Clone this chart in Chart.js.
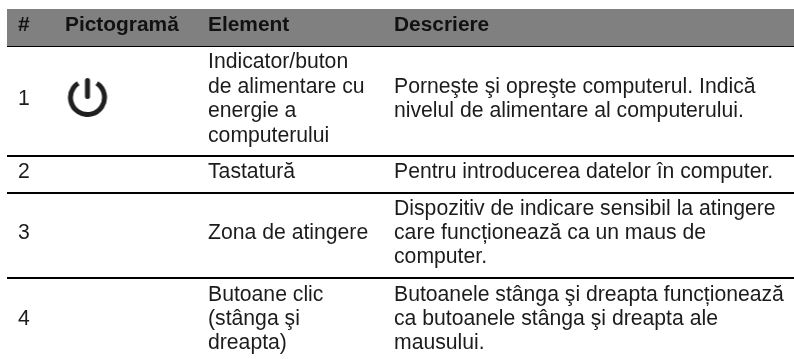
<!DOCTYPE html>
<html>
<head>
<meta charset="utf-8">
<style>
  html, body { margin: 0; padding: 0; background: #fff; }
  canvas { display: block; }
</style>
<script src="https://cdn.jsdelivr.net/npm/chart.js@4/dist/chart.umd.min.js"></script>
</head>
<body>
<canvas id="tableChart" width="794" height="359"></canvas>
<script>
const headers = ['#', 'Pictogramă', 'Element', 'Descriere'];
const rowNumbers = ['1', '2', '3', '4'];
const elements = [
    ['Indicator/buton', 'de alimentare cu', 'energie a', 'computerului'],
    ['Tastatură'],
    ['Zona de atingere'],
    ['Butoane clic', '(stânga şi', 'dreapta)']
];
const descriptions = [
    ['Porneşte şi opreşte computerul. Indică', 'nivelul de alimentare al computerului.'],
    ['Pentru introducerea datelor în computer.'],
    ['Dispozitiv de indicare sensibil la atingere', 'care funcționează ca un maus de', 'computer.'],
    ['Butoanele stânga şi dreapta funcționează', 'ca butoanele stânga şi dreapta ale', 'mausului.']
];

// layout, in scale units (the scales run 1:1 with the canvas)
const columnX = [18, 65, 208, 394];
const tableLeft = 7;
const tableRight = 794;
const headerTop = 9;
const ruleY = [46, 156, 193, 278];
const headerBaseline = 31;
const rowMiddle = [104.5, 177.5, 238.5, 324.5];
const lineHeight = 24.4;
const fontSize = 21.2;
const headerFontSize = 20.9;
const fontFamily = '"Liberation Sans", Arial, sans-serif';

function powerIcon() {
    const c = document.createElement('canvas');
    c.width = 44;
    c.height = 44;
    const g = c.getContext('2d');
    g.strokeStyle = '#1f1f1f';
    g.lineCap = 'butt';
    g.lineWidth = 5;
    g.beginPath();
    g.arc(22, 24.5, 17, -Math.PI / 2 + 0.58, -Math.PI / 2 - 0.58);
    g.stroke();
    g.lineCap = 'round';
    g.beginPath();
    g.moveTo(22, 7.5);
    g.lineTo(22, 23.5);
    g.stroke();
    return c;
}

const tableText = {
    id: 'tableText',
    afterDatasetsDraw(chart) {
        const { ctx, scales: { x, y } } = chart;
        ctx.save();
        ctx.textBaseline = 'alphabetic';
        ctx.fillStyle = '#111';
        ctx.font = 'bold ' + headerFontSize + 'px ' + fontFamily;
        headers.forEach((h, i) => {
            ctx.fillText(h, x.getPixelForValue(columnX[i]), y.getPixelForValue(headerBaseline));
        });
        ctx.fillStyle = '#1c1c1c';
        ctx.font = fontSize + 'px ' + fontFamily;
        const drawCell = (lines, col, middle) => {
            const first = middle - (lines.length - 1) * lineHeight / 2 + 0.5;
            lines.forEach((line, i) => {
                ctx.fillText(line, x.getPixelForValue(columnX[col]), y.getPixelForValue(first + i * lineHeight));
            });
        };
        rowNumbers.forEach((n, r) => {
            drawCell([n], 0, rowMiddle[r]);
            drawCell(elements[r], 2, rowMiddle[r]);
            drawCell(descriptions[r], 3, rowMiddle[r]);
        });
        ctx.restore();
    }
};

const ruleDatasets = ruleY.map(v => ({
    label: 'rule',
    data: [{ x: tableLeft, y: v }, { x: tableRight, y: v }],
    showLine: true,
    borderColor: '#000',
    borderWidth: 2,
    pointRadius: 0
}));

new Chart(document.getElementById('tableChart'), {
    type: 'scatter',
    data: {
        datasets: [
            {
                label: 'header',
                data: [{ x: tableLeft, y: headerTop }, { x: tableRight, y: headerTop }],
                showLine: true,
                borderWidth: 0,
                pointRadius: 0,
                fill: { value: ruleY[0] },
                backgroundColor: '#808080'
            },
            ...ruleDatasets,
            {
                label: 'power',
                data: [{ x: 87.5, y: 95 }],
                pointStyle: powerIcon(),
                showLine: false
            }
        ]
    },
    options: {
        responsive: false,
        animation: false,
        layout: { padding: 0, autoPadding: false },
        plugins: { legend: { display: false }, tooltip: { enabled: false } },
        scales: {
            x: { display: false, min: 0, max: 794 },
            y: { display: false, min: 0, max: 359, reverse: true }
        }
    },
    plugins: [tableText]
});
</script>
</body>
</html>
